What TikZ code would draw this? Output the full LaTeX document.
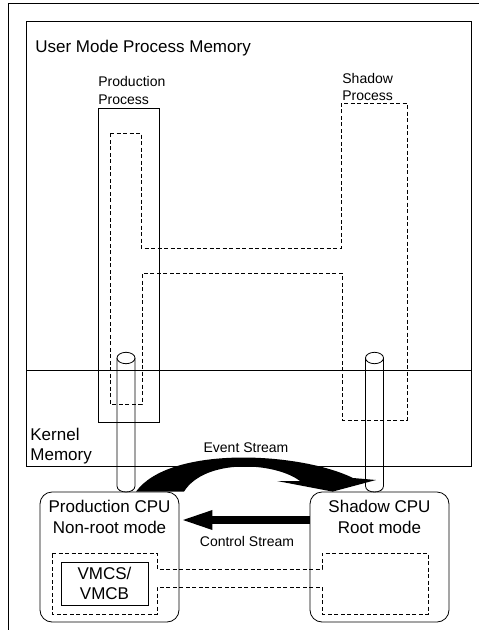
\documentclass[tikz,border=0pt]{standalone}
\usepackage{fontspec}
\setmainfont{Liberation Sans}
\usetikzlibrary{positioning, calc, arrows.meta}
\newcommand{\memfont}{\fontsize{17}{20.5}\selectfont}
\newcommand{\lblfont}{\fontsize{14}{17.5}\selectfont}

\begin{document}
\begin{tikzpicture}[
    x=1pt, y=-1pt,
    line width=0.8pt,
    cpubox/.style={draw, rectangle, rounded corners=12pt, minimum width=139pt, minimum height=130pt},
    regbox/.style={draw, rectangle, minimum width=87pt, minimum height=43pt, inner sep=0pt, align=center, font=\memfont},
    memtext/.style={inner sep=0pt, align=center, font=\memfont},
    lbltext/.style={inner sep=0pt, align=left, font=\lblfont},
    shadowline/.style={dash pattern=on 4pt off 2.5pt},
    streamarrow/.style={line width=8pt, -{Triangle[length=33pt, width=17pt]}}
]
\useasboundingbox (0,0) rectangle (479,630);

% frames
\draw (8,630) -- (8,3) -- (479,3);
\draw (26,21) rectangle (471,466);
\draw (26,370) -- (471,370);
\node[memtext, anchor=base west] (usrlbl) at (35,52) {User Mode Process Memory};
\node[memtext, align=left, anchor=west] (krnlbl) at (30,446) {Kernel\\Memory};

% processes
\draw (98,108) rectangle (159,422);
\node[lbltext, anchor=west] (prodproc) at (98,90.3) {Production\\Process};
\node[lbltext, anchor=west] (shadproc) at (342,87) {Shadow\\Process};
\draw[shadowline] (110,133) -- (141,133) -- (141,248) -- (341,248) -- (341,103) -- (407,103)
  -- (407,420) -- (342,420) -- (342,273) -- (142,273) -- (142,404) -- (110,404) -- cycle;

% cpus
\node[cpubox] (prodcpu) at (109.5,557) {};
\node[cpubox] (shadcpu) at (379.5,557) {};
\node[memtext, below=8.2pt of prodcpu.north] (prodlbl) {Production CPU\\Non-root mode};
\node[memtext, below=8.2pt of shadcpu.north] (shadlbl) {Shadow CPU\\Root mode};
\node[regbox] (vmcs) at (104.5,583.5) {VMCS/\\VMCB};
\draw[shadowline] (52,553) -- (157,553) -- (157,569) -- (322,569) -- (322,553) -- (428,553)
  -- (428,614) -- (322,614) -- (322,587) -- (157,587) -- (157,614) -- (52,614) -- cycle;

% streams
\fill ([xshift=26.5pt]prodcpu.north) .. controls (170,445) and (300,452) .. (353,478)
  -- (376,480) -- ([xshift=23pt]shadcpu.north west) -- (277,481) -- (300,481)
  .. controls (275,462) and (205,458) .. ([xshift=74.5pt]prodcpu.north) -- cycle;
\node[lbltext] (evlbl) at (246,448) {Event Stream};
\draw[streamarrow] ([yshift=37pt]shadcpu.west) -- ([yshift=37pt]prodcpu.east);
\node[lbltext] (ctllbl) at (247,541) {Control Stream};

% pipes
\foreach \cx in {126,374.5} {
  \draw (\cx,358) ellipse [x radius=9pt, y radius=5.7pt];
  \draw (\cx-9,358) -- (\cx-9,486) .. controls (\cx-9,494) and (\cx+9,494) .. (\cx+9,486) -- (\cx+9,358);
}
\end{tikzpicture}
\end{document}
